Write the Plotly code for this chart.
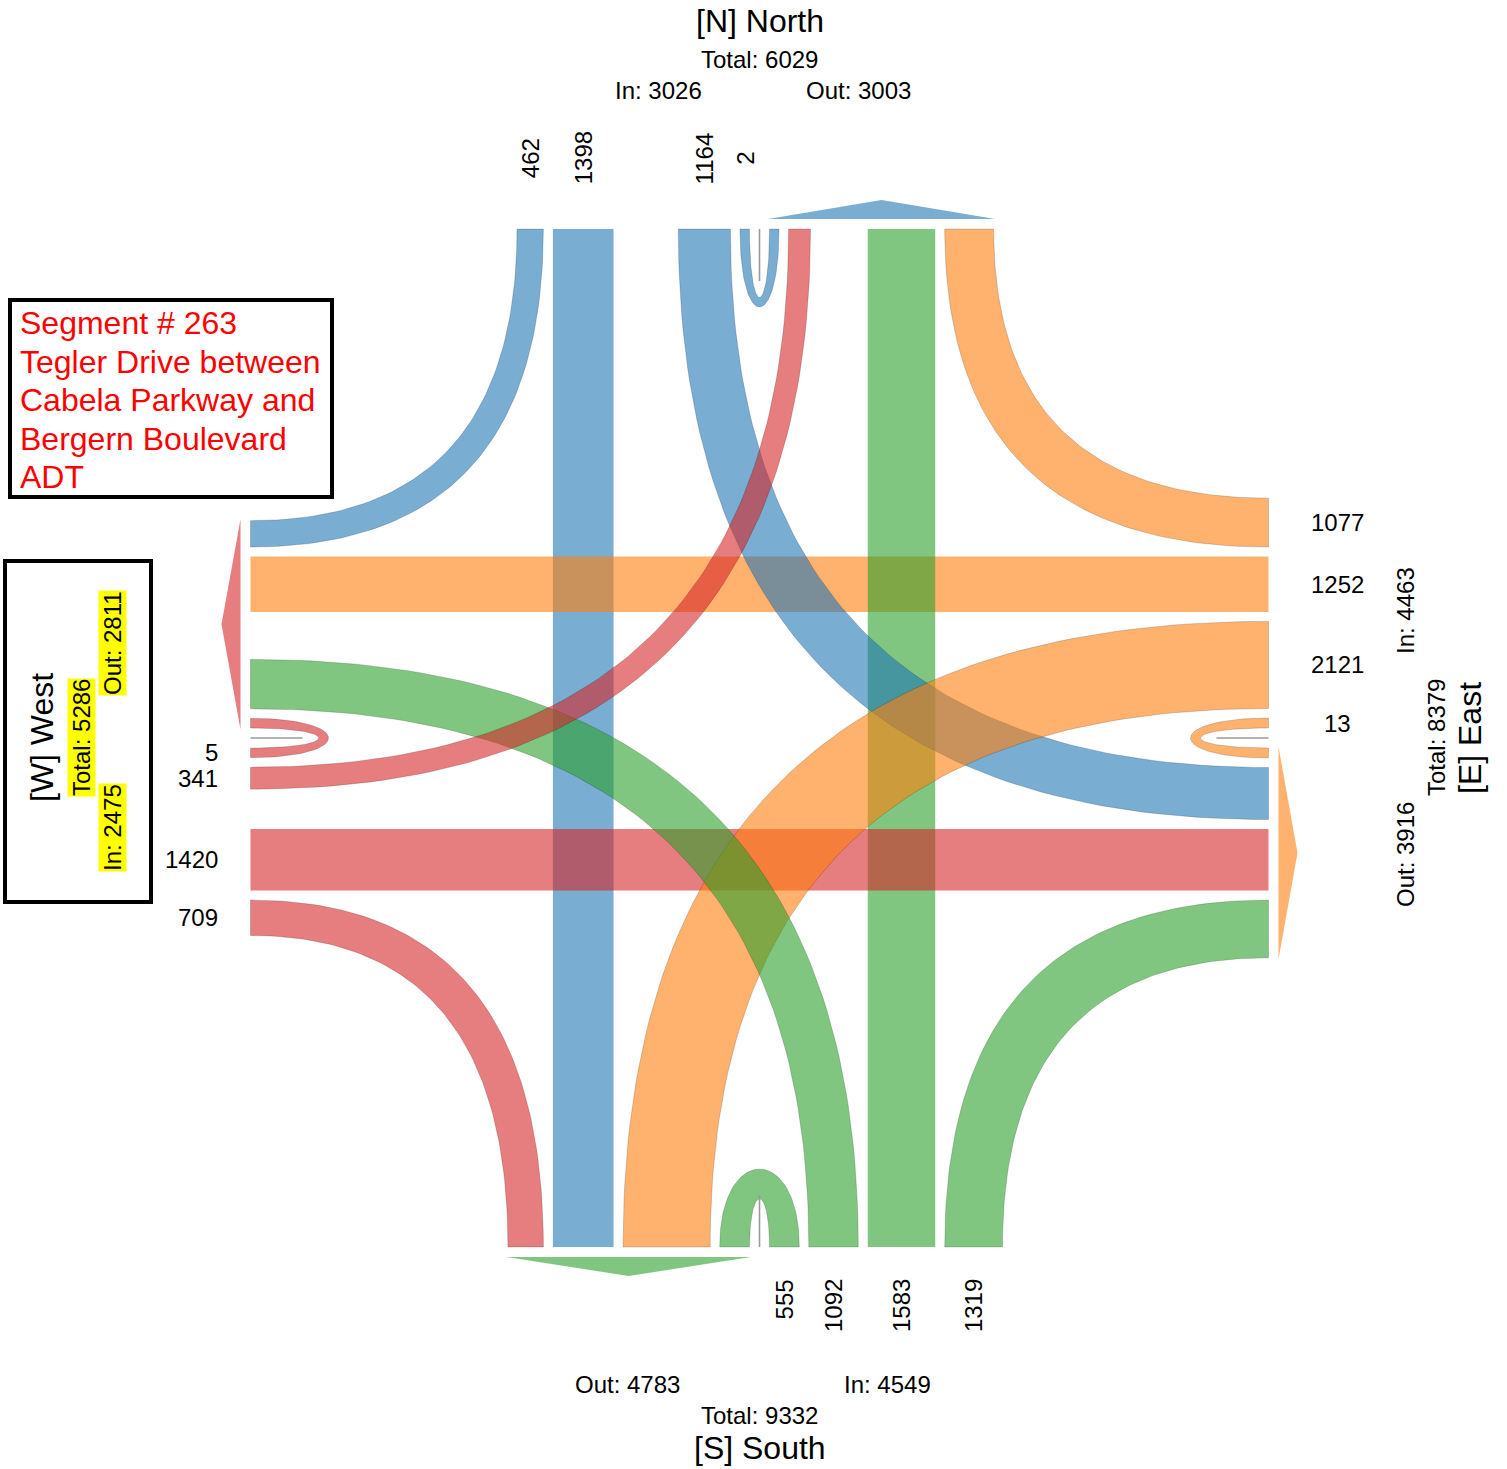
import numpy as np
import plotly.graph_objects as go

# ADT volumes per approach, order North, East, South, West
approach = ["North", "East", "South", "West"]
code = ["N", "E", "S", "W"]
right_turn = [462, 1077, 1319, 709]
through = [1398, 1252, 1583, 1420]
left_turn = [1164, 2121, 1092, 341]
u_turn = [2, 13, 555, 5]
colors = ["31,119,180", "255,127,14", "44,160,44", "214,39,40"]

segment_lines = ["Segment # 263", "Tegler Drive between", "Cabela Parkway and",
                 "Bergern Boulevard", "ADT"]

# drawing layout (pixel units)
W, H = 1507, 1469
CX, CY = 759.5, 738
HALF = 509          # half size of the intersection box
GAP = 9.5           # gap between lanes
HOLE = 10           # half gap inside u-turn loop
BASE_W, PER_VEH = 9.5, 0.0366
UT_DEPTH = 78
FONT = "Liberation Sans, Arial, sans-serif"


def bw(v):
    return BASE_W + PER_VEH * v


def rot(dx, dy, k):
    for _ in range(k):
        dx, dy = -dy, dx
    return dx, dy


def edge_pt(k, off, inbound, depth=0.0):
    # point on side k, "off" from the centre line, depth>0 goes into the box
    dx, dy = rot(-off if inbound else off, -HALF + depth, k)
    return CX + dx, CY + dy


def quad(p0, p1, p2, n=80):
    t = np.linspace(0, 1, n)[:, None]
    p = (1 - t) ** 2 * np.array(p0) + 2 * t * (1 - t) * np.array(p1) + t ** 2 * np.array(p2)
    return list(p[:, 0]), list(p[:, 1])


def cubic(p0, p1, p2, p3, n=60):
    t = np.linspace(0, 1, n)[:, None]
    p = ((1 - t) ** 3 * np.array(p0) + 3 * t * (1 - t) ** 2 * np.array(p1)
         + 3 * t ** 2 * (1 - t) * np.array(p2) + t ** 3 * np.array(p3))
    return list(p[:, 0]), list(p[:, 1])


# lane offsets from the centre line of each side
lt_off = [HOLE + bw(u_turn[k]) + GAP for k in range(4)]
th_off = [max(lt_off[k] + bw(left_turn[k]) + GAP,
              lt_off[(k + 2) % 4] + bw(left_turn[(k + 1) % 4]) + GAP) for k in range(4)]
rt_off = [th_off[k] + bw(through[k]) + GAP for k in range(4)]

fig = go.Figure()


def add_poly(xs, ys, k, outline=True):
    fig.add_trace(go.Scatter(
        x=xs + [xs[0]], y=ys + [ys[0]], mode="lines", fill="toself",
        fillcolor="rgba(%s,0.6)" % colors[k],
        line=dict(color="rgba(0,0,0,0.28)" if outline else "rgba(0,0,0,0)",
                  width=0.6 if outline else 0),
        hoverinfo="skip", showlegend=False))


def turn_band(k, j, o_in, o_out, w):
    xs, ys = [], []
    for e in (0, w):
        p0 = edge_pt(k, o_in + e, True)
        p2 = edge_pt(j, o_out + e, False)
        p1 = (p0[0], p2[1]) if k % 2 == 0 else (p2[0], p0[1])
        x, y = quad(p0, p1, p2)
        if e:
            x, y = x[::-1], y[::-1]
        xs += x
        ys += y
    return xs, ys


# right turns
for k in range(4):
    xs, ys = turn_band(k, (k + 3) % 4, rt_off[k], rt_off[(k + 1) % 4], bw(right_turn[k]))
    add_poly(xs, ys, k)

# through movements
for k in range(4):
    o, w = th_off[k], bw(through[k])
    pts = [edge_pt(k, o, True), edge_pt(k, o + w, True),
           edge_pt((k + 2) % 4, o + w, False), edge_pt((k + 2) % 4, o, False)]
    add_poly([p[0] for p in pts], [p[1] for p in pts], k, outline=False)

# left turns
for k in range(4):
    xs, ys = turn_band(k, (k + 1) % 4, lt_off[k], lt_off[(k + 1) % 4], bw(left_turn[k]))
    add_poly(xs, ys, k)

# u-turns
for k in range(4):
    w = bw(u_turn[k])
    xs, ys = [], []
    for o, d in ((HOLE + w, UT_DEPTH), (HOLE, UT_DEPTH - w)):
        c = d / 0.75
        x, y = cubic(edge_pt(k, o, True), edge_pt(k, o, True, c),
                     edge_pt(k, o, False, c), edge_pt(k, o, False))
        if o == HOLE:
            x, y = x[::-1], y[::-1]
        xs += x
        ys += y
    add_poly(xs, ys, k)
    a, b = edge_pt(k, 0, True), edge_pt(k, 0, True, 52)
    fig.add_trace(go.Scatter(x=[a[0], b[0]], y=[a[1], b[1]], mode="lines",
                             line=dict(color="#9a9a9a", width=1.6),
                             hoverinfo="skip", showlegend=False))

# exit arrows
for j in range(4):
    a = HOLE - 1.5
    b = rt_off[(j + 2) % 4] + bw(right_turn[(j + 1) % 4]) + 1.5
    pts = [edge_pt(j, a, False, -10), edge_pt(j, b, False, -10),
           edge_pt(j, (a + b) / 2, False, -29)]
    add_poly([p[0] for p in pts], [p[1] for p in pts], j, outline=False)

# movement labels (entering volumes)
for k in range(4):
    vols = [right_turn[k], through[k], left_turn[k], u_turn[k]]
    offs = [rt_off[k], th_off[k], lt_off[k], HOLE]
    for v, o in zip(vols, offs):
        c = o + bw(v) / 2
        if k == 0:
            x, y = edge_pt(k, c, True, -71)
            kw = dict(textangle=-90, xanchor="center", yanchor="middle")
        elif k == 1:
            x, y = edge_pt(k, c, True, -69)
            kw = dict(xanchor="center", yanchor="middle")
        elif k == 2:
            x, y = edge_pt(k, c, True, -30)
            kw = dict(textangle=-90, xanchor="center", yanchor="top")
        else:
            x, y = edge_pt(k, c, True, -31)
            kw = dict(xanchor="right", yanchor="middle")
        fig.add_annotation(x=x, y=y, text=str(v), showarrow=False,
                           font=dict(family=FONT, size=24, color="black"), **kw)

in_tot = [right_turn[k] + through[k] + left_turn[k] + u_turn[k] for k in range(4)]
out_tot = [u_turn[j] + left_turn[(j + 3) % 4] + through[(j + 2) % 4] + right_turn[(j + 1) % 4]
           for j in range(4)]


def txt(x, y, s, size=24, angle=0, bg=None, **kw):
    fig.add_annotation(x=x, y=y, text=s, showarrow=False, textangle=angle,
                       font=dict(family=FONT, size=size, color=kw.pop("color", "black")),
                       bgcolor=bg, borderpad=0, **kw)


# North
txt(CX, 21, "[%s] %s" % (code[0], approach[0]), 32)
txt(CX, 59, "Total: %d" % (in_tot[0] + out_tot[0]))
txt(CX - 101, 90, "In: %d" % in_tot[0])
txt(CX + 99, 90, "Out: %d" % out_tot[0])
# South
txt(CX - 132, 1384, "Out: %d" % out_tot[2])
txt(CX + 128, 1384, "In: %d" % in_tot[2])
txt(CX, 1415, "Total: %d" % (in_tot[2] + out_tot[2]))
txt(CX, 1448, "[%s] %s" % (code[2], approach[2]), 32)
# East
txt(1405, CY - 127, "In: %d" % in_tot[1], angle=-90)
txt(1405, CY + 117, "Out: %d" % out_tot[1], angle=-90)
txt(1436, CY, "Total: %d" % (in_tot[1] + out_tot[1]), angle=-90)
txt(1470, CY, "[%s] %s" % (code[1], approach[1]), 32, angle=-90)
# West (boxed, highlighted)
txt(42, CY, "[%s] %s" % (code[3], approach[3]), 32, angle=-90)
txt(81, CY, "Total: %d" % (in_tot[3] + out_tot[3]), angle=-90, bg="#ffff00")
txt(112, CY + 90, "In: %d" % in_tot[3], angle=-90, bg="#ffff00")
txt(112, CY - 95, "Out: %d" % out_tot[3], angle=-90, bg="#ffff00")

fig.add_shape(type="rect", x0=5, y0=561, x1=151, y1=902, line=dict(color="black", width=4))
fig.add_shape(type="rect", x0=10, y0=300, x1=332, y1=497, line=dict(color="black", width=4))
for i, line in enumerate(segment_lines):
    txt(19, 323 + 38.5 * i, line, 32, color="#ff0000", xanchor="left")

fig.update_layout(
    width=W, height=H, margin=dict(l=0, r=0, t=0, b=0),
    paper_bgcolor="white", plot_bgcolor="white", showlegend=False,
    xaxis=dict(range=[0, W], visible=False, fixedrange=True),
    yaxis=dict(range=[H, 0], visible=False, fixedrange=True),
)

fig.write_html("out.html", config={"displayModeBar": False},
               post_script="document.body.style.margin='0';")
